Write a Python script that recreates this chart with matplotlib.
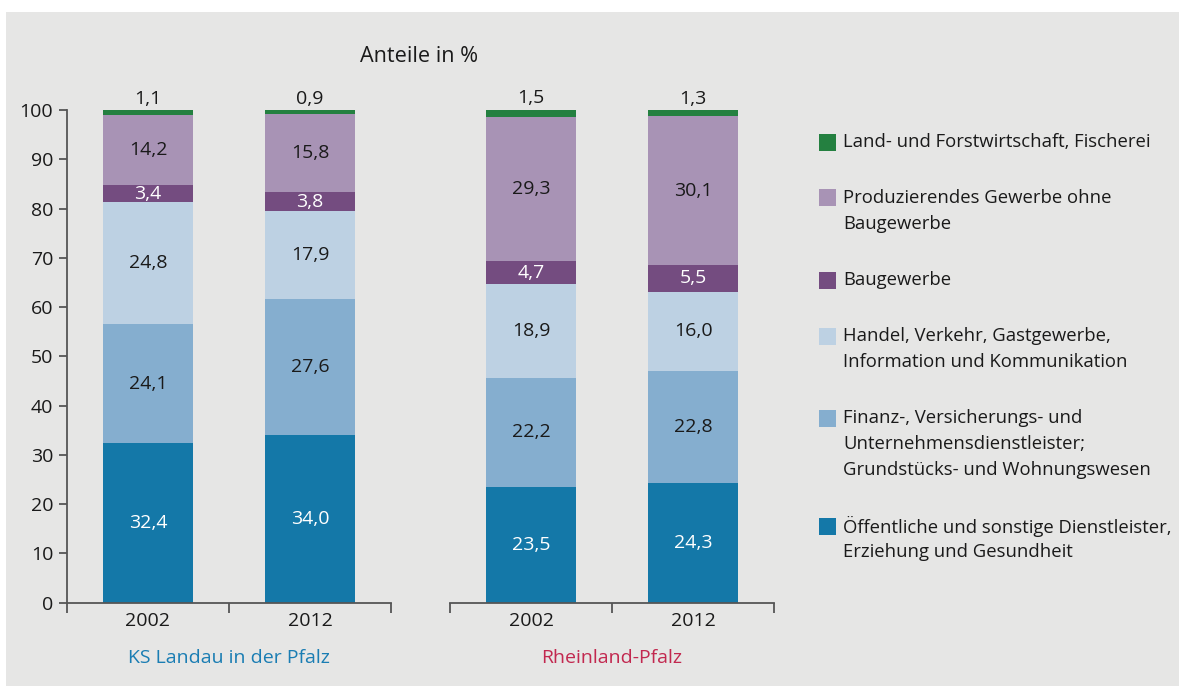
import matplotlib
matplotlib.use("Agg")
import matplotlib.pyplot as plt
from matplotlib.patches import Rectangle
import numpy as np

plt.rcParams['font.family'] = ['Open Sans', 'DejaVu Sans']

# ---- data ----
groups = ["KS Landau in der Pfalz", "Rheinland-Pfalz"]
group_colors = ["#1a7db3", "#c2284f"]
years = ["2002", "2012"]
sectors = [
    "Öffentliche und sonstige Dienstleister,\nErziehung und Gesundheit",
    "Finanz-, Versicherungs- und\nUnternehmensdienstleister;\nGrundstücks- und Wohnungswesen",
    "Handel, Verkehr, Gastgewerbe,\nInformation und Kommunikation",
    "Baugewerbe",
    "Produzierendes Gewerbe ohne\nBaugewerbe",
    "Land- und Forstwirtschaft, Fischerei",
]
colors = ["#1478a8", "#85aecf", "#bdd1e3", "#744c80", "#a893b5", "#248040"]
label_colors = ["white", "#1a1a1a", "#1a1a1a", "white", "#1a1a1a", "#1a1a1a"]

landau_2002 = [32.4, 24.1, 24.8, 3.4, 14.2, 1.1]
landau_2012 = [34.0, 27.6, 17.9, 3.8, 15.8, 0.9]
rlp_2002 = [23.5, 22.2, 18.9, 4.7, 29.3, 1.5]
rlp_2012 = [24.3, 22.8, 16.0, 5.5, 30.1, 1.3]
data = [[landau_2002, landau_2012], [rlp_2002, rlp_2012]]

yticks = [0, 10, 20, 30, 40, 50, 60, 70, 80, 90, 100]

W, H = 1179, 686
fig = plt.figure(figsize=(W / 100, H / 100), dpi=100)
fig.patch.set_facecolor("white")
bg = "#e6e6e5"
fig.patches.append(Rectangle((6 / W, 0), 1 - 6 / W, 1 - 12 / H, transform=fig.transFigure,
                             facecolor=bg, edgecolor="none", zorder=-10))

def fx(px):
    return px / W

def fy(py):
    return 1 - py / H

ax_bottom = fy(602.7)
ax_height = 492.7 / H
axes_left = [67, 450]
ax_w = 324

txt = "#1a1a1a"
spine_c = "#555555"
fs = 14
fs_leg = 13.3

for gi, gname in enumerate(groups):
    ax = fig.add_axes([fx(axes_left[gi]), ax_bottom, ax_w / W, ax_height])
    ax.set_facecolor("none")
    ax.set_xlim(0, 2)
    ax.set_ylim(0, 100)
    for s in ["top", "right"]:
        ax.spines[s].set_visible(False)
    ax.spines["bottom"].set_color(spine_c)
    ax.spines["bottom"].set_linewidth(1.3)
    ax.spines["left"].set_color(spine_c)
    ax.spines["left"].set_linewidth(1.3)
    if gi == 0:
        ax.set_yticks(yticks)
        ax.tick_params(axis="y", length=6, width=1.3, color=spine_c, labelsize=fs,
                       labelcolor=txt, pad=4)
    else:
        ax.spines["left"].set_visible(False)
        ax.set_yticks([])
    ax.set_xticks([0, 1, 2])
    ax.set_xticklabels([])
    ax.tick_params(axis="x", which="major", length=7, width=1.3, color=spine_c, direction="out")
    ax.set_xticks([0.5, 1.5], minor=True)
    ax.set_xticklabels(years, minor=True)
    ax.tick_params(axis="x", which="minor", length=0, labelsize=fs, labelcolor=txt, pad=7)

    for yi in range(2):
        vals = data[gi][yi]
        bottom = 0
        x = yi + 0.5
        for si, v in enumerate(vals):
            ax.bar(x, v, width=0.56, bottom=bottom, color=colors[si], clip_on=False,
                   linewidth=0, zorder=2)
            lab = f"{v:.1f}".replace(".", ",")
            if si == len(vals) - 1:
                ax.annotate(lab, (x, bottom + v), xytext=(0, 1.5), textcoords="offset points",
                            ha="center", va="bottom", fontsize=fs, color=txt)
            else:
                ax.text(x, bottom + v / 2, lab, ha="center", va="center", fontsize=fs,
                        color=label_colors[si], zorder=3)
            bottom += v

    ax.text(0.5, -0.113, gname, transform=ax.transAxes, ha="center", va="center",
            fontsize=fs, color=group_colors[gi])

fig.text(fx(419), fy(57), "Anteile in %", ha="center", va="center", fontsize=15.6,
         color=txt)

# legend (top entry first)
leg_y = [142, 198, 280, 336, 418, 526]
order = list(range(len(sectors)))[::-1]
for k, si in enumerate(order):
    y = leg_y[k]
    fig.patches.append(Rectangle((fx(819), fy(y + 8.5)), 17 / W, 17 / H,
                                 transform=fig.transFigure, facecolor=colors[si],
                                 edgecolor="none"))
    for li, line in enumerate(sectors[si].split("\n")):
        fig.text(fx(843), fy(y + 26 * li), line, ha="left", va="center",
                 fontsize=fs_leg, color=txt)

fig.savefig("out.png", dpi=100, facecolor=fig.get_facecolor())
